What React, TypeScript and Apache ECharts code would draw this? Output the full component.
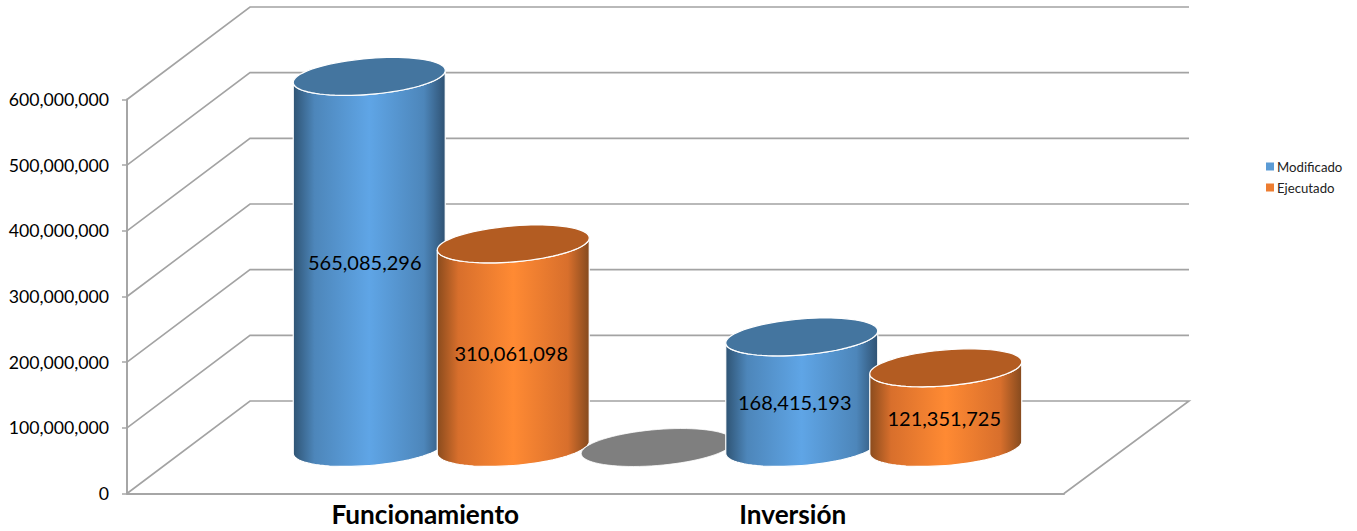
import React, { useEffect, useRef } from "react";
import * as echarts from "echarts";

const categories = ["Funcionamiento", "Inversión"];
const modificado = [565085296, 168415193];
const ejecutado = [310061098, 121351725];
const sinNombre = [0];
const yTicks = [0, 100000000, 200000000, 300000000, 400000000, 500000000, 600000000];

// geometry of the fake 3D box, in pixels
const DEPTH_X = 123;
const DEPTH_Y = 92.5;
const RX = 76;
const RY = 18;
const TILT = 6;

const slotOffsetMod = [8, -28];
const slotOffsetEj = [152, 116];
const slotOffsetGray = [296];
const nudgeMod = [[-4.5, 0], [-7, 10]];
const nudgeEj = [[-2, 7.5], [-1.5, 10]];

const fmt = (v: number) => v.toLocaleString("en-US");
const FONT = "Lato, 'Noto Sans', sans-serif";

function arcPoints(cx: number, cy: number, from: number, to: number, n = 40) {
  const pts: number[][] = [];
  for (let i = 0; i <= n; i++) {
    const t = from + ((to - from) * i) / n;
    pts.push([cx + RX * Math.cos(t), cy - TILT * Math.cos(t) + RY * Math.sin(t)]);
  }
  return pts;
}

function grad(edgeL: string, mid: string, inner: string, edgeR: string) {
  return {
    type: "linear", x: 0, y: 0, x2: 1, y2: 0,
    colorStops: [
      { offset: 0, color: edgeL },
      { offset: 0.14, color: inner },
      { offset: 0.5, color: mid },
      { offset: 0.86, color: inner },
      { offset: 1, color: edgeR },
    ],
  };
}

function cylinder(
  offsets: number[], nudges: number[][], order: number[],
  body: any, topColor: string, showLabel = true
) {
  return (_: any, api: any) => {
    const i = api.value(0);
    const v = api.value(1);
    const cx = api.coord([i, 0])[0] + offsets[i];
    const base = api.coord([i, 0])[1] - 46;
    const top = api.coord([i, v])[1] - 46;
    const half = api.coord([i, v / 2])[1] - 46;
    const z = order[i] * 10;
    const children: any[] = [];
    if (v > 0) {
      const pts = [...arcPoints(cx, base, Math.PI, 0), ...arcPoints(cx, top, 0, Math.PI)];
      children.push({
        type: "polygon", z2: z,
        shape: { points: pts },
        style: { fill: body, stroke: "#ffffff", lineWidth: 1.2 },
      });
    }
    children.push({
      type: "polygon", z2: z + 1,
      shape: { points: arcPoints(cx, top, 0, Math.PI * 2, 80) },
      style: { fill: topColor, stroke: "#ffffff", lineWidth: v > 0 ? 1.2 : 0.8 },
    });
    if (showLabel && v > 0) {
      children.push({
        type: "text", z2: 500,
        x: cx + nudges[i][0], y: half + nudges[i][1],
        style: {
          text: fmt(v), fill: "#000000", font: `20px ${FONT}`,
          align: "center", verticalAlign: "middle",
        },
      });
    }
    return { type: "group", children };
  };
}

const App = () => {
  const ref = useRef<HTMLDivElement>(null);
  useEffect(() => {
    document.body.style.margin = "0";
    const chart = echarts.init(ref.current!, null, { renderer: "svg" });
    const blue = grad("#2f5474", "#5fa5e6", "#4d86ba", "#2f5273");
    const orange = grad("#8a4b1d", "#ff8a33", "#d86f2c", "#854a1e");
    chart.setOption({
      animation: false,
      backgroundColor: "#ffffff",
      grid: { left: 127, top: 99.5, width: 937, height: 394, containLabel: false },
      legend: {
        orient: "vertical", left: 1261, top: 155,
        itemWidth: 8, itemHeight: 8, itemGap: 8,
        icon: "rect",
        data: ["Modificado", "Ejecutado"],
        textStyle: { fontFamily: FONT, fontSize: 13.2, color: "#222222", padding: [0, 0, 0, -2] },
      },
      xAxis: {
        type: "category",
        data: categories,
        axisLine: { show: true, lineStyle: { color: "#a6a6a6", width: 2 } },
        axisTick: { show: false },
        axisLabel: {
          margin: 7,
          interval: 0,
          formatter: (v: string) => (v === categories[0] ? `{a|${v}}` : `{b|${v}}`),
          rich: {
            a: { fontFamily: FONT, fontSize: 26.2, fontWeight: "bold", color: "#000", padding: [0, 0, 0, 128] },
            b: { fontFamily: FONT, fontSize: 26.2, fontWeight: "bold", color: "#000", padding: [0, 74, 0, 0] },
          },
        },
      },
      yAxis: {
        type: "value", min: 0, max: 600000000, interval: 100000000,
        splitLine: { show: false },
        axisLine: { show: true, lineStyle: { color: "#a6a6a6", width: 2 } },
        axisTick: { show: true, length: 5, lineStyle: { color: "#a6a6a6", width: 1.5 } },
        axisLabel: {
          margin: 18,
          fontFamily: FONT, fontSize: 17.7, color: "#000",
          padding: [2, 0, 0, 0],
          formatter: (v: number) => fmt(v),
        },
      },
      series: [
        {
          type: "custom", name: "walls", z: 1, silent: true,
          data: yTicks.map((v) => [0, v]),
          encode: { x: 0, y: 1 },
          renderItem: (p: any, api: any) => {
            const y = api.coord([0, api.value(1)])[1];
            const x0 = p.coordSys.x;
            const w = p.coordSys.width;
            const points = [[x0, y], [x0 + DEPTH_X, y - DEPTH_Y], [x0 + w + DEPTH_X + 2, y - DEPTH_Y]];
            if (api.value(1) === 0) points.push([x0 + w, y]);
            return {
              type: "polyline",
              shape: { points },
              style: { fill: "none", stroke: "#a3a3a3", lineWidth: 1.6 },
            };
          },
        },
        {
          type: "custom", name: "Modificado", z: 2, itemStyle: { color: "#5B9BD5" },
          data: modificado.map((v, i) => [i, v]), encode: { x: 0, y: 1 },
          renderItem: cylinder(slotOffsetMod, nudgeMod, [0, 3], blue, "#44759f"),
        },
        {
          type: "custom", name: "Ejecutado", z: 2, itemStyle: { color: "#ED7D31" },
          data: ejecutado.map((v, i) => [i, v]), encode: { x: 0, y: 1 },
          renderItem: cylinder(slotOffsetEj, nudgeEj, [1, 4], orange, "#b35c22"),
        },
        {
          type: "custom", name: "", z: 2, itemStyle: { color: "#7f7f7f" },
          data: sinNombre.map((v, i) => [i, v]), encode: { x: 0, y: 1 },
          renderItem: cylinder(slotOffsetGray, [[0, 0]], [2], "#7f7f7f", "#7f7f7f", false),
        },
      ],
    });
    return () => chart.dispose();
  }, []);
  return <div ref={ref} style={{ width: 1357, height: 531 }} />;
};

export default App;
